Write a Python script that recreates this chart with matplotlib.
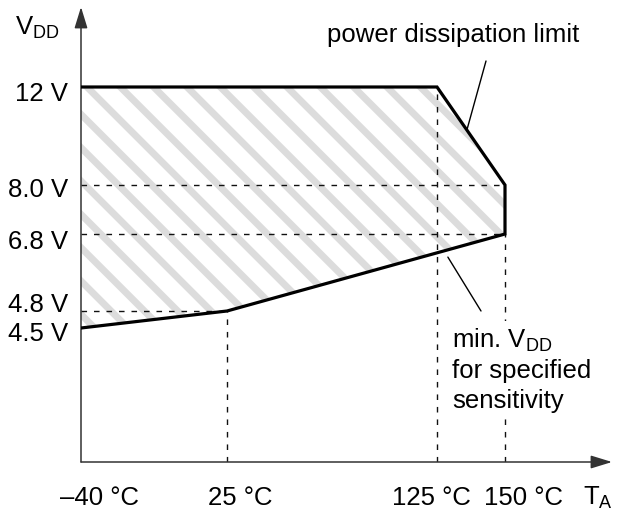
import numpy as np
import matplotlib
matplotlib.use("Agg")
import matplotlib.pyplot as plt
from matplotlib.patches import Polygon

plt.rcParams['font.family'] = ['Liberation Sans', 'DejaVu Sans']
plt.rcParams['mathtext.fontset'] = 'custom'
plt.rcParams['mathtext.rm'] = 'Liberation Sans'
plt.rcParams['mathtext.it'] = 'Liberation Sans:italic'
plt.rcParams['hatch.linewidth'] = 5
plt.rcParams['hatch.color'] = '#dcdcdc'

# corners of the operating area (T_A in degC, V_DD in V)
area_temp = [-40, 25, 150, 150, 125, -40]
area_vdd = [4.5, 4.8, 6.8, 8.0, 12.0, 12.0]

temp_ticks = [-40, 25, 125, 150]
temp_labels = ['–40 °C', '25 °C', '125 °C', '150 °C']
vdd_ticks = [12.0, 8.0, 6.8, 4.8, 4.5]
vdd_labels = ['12 V', '8.0 V', '6.8 V', '4.8 V', '4.5 V']

# the drawing is schematic, axes are not to scale
T_REF = [-40, 25, 125, 150, 185]
T_PIX = [0, 146, 356, 424, 531]
V_REF = [2.0, 4.5, 4.8, 6.8, 8.0, 12.0, 14.6]
V_PIX = [0, 134, 151, 228, 277, 375, 455]

W, H = 618, 510
fig = plt.figure(figsize=(W / 100, H / 100), dpi=100)
ax = fig.add_axes([81 / W, 47 / H, 531 / W, 455 / H])
ax.set_xscale('function', functions=(lambda t: np.interp(t, T_REF, T_PIX),
                                     lambda p: np.interp(p, T_PIX, T_REF)))
ax.set_yscale('function', functions=(lambda v: np.interp(v, V_REF, V_PIX),
                                     lambda p: np.interp(p, V_PIX, V_REF)))
ax.set_xlim(T_REF[0], T_REF[-1])
ax.set_ylim(V_REF[0], V_REF[-1])
ax.set_xticks([])
ax.set_yticks([])
ax.minorticks_off()
for s in ax.spines.values():
    s.set_visible(False)
ax.patch.set_alpha(0)

# hatched area + outline
ax.add_patch(Polygon(list(zip(area_temp, area_vdd)), closed=True, facecolor='none',
                     edgecolor='#dcdcdc', lw=0, hatch='\\'))
ax.plot(area_temp, area_vdd, color='black', lw=2.3, solid_joinstyle='miter', zorder=4)

# dashed guide lines
ybot = ax.get_ylim()[0]
dash = dict(color='#111111', lw=1.0, dashes=(4, 5), zorder=3)
ax.plot([-40, 150], [8.0, 8.0], **dash)
ax.plot([-40, 150], [6.8, 6.8], **dash)
ax.plot([-40, 25], [4.8, 4.8], **dash)
ax.plot([25, 25], [ybot, 4.8], **dash)
ax.plot([125, 125], [ybot, 12.0], **dash)
ax.plot([150, 150], [ybot, 6.8], **dash)

# axes with arrows
arr = dict(arrowstyle='-|>,head_length=0.65,head_width=0.2', color='#333333',
           lw=1.1, mutation_scale=20, shrinkA=0, shrinkB=0)
ax.annotate('', xy=(1, 0), xytext=(0, 0), xycoords='axes fraction', arrowprops=arr)
ax.annotate('', xy=(0, 1), xytext=(0, 0), xycoords='axes fraction', arrowprops=arr)

fs = 18.5
# tick labels
x_shift = [18, 13, -6, 19]
for t, lbl, dx in zip(temp_ticks, temp_labels, x_shift):
    ax.annotate(lbl, xy=(t, 0), xycoords=('data', 'axes fraction'),
                xytext=(dx, -42), textcoords='offset pixels',
                ha='center', va='baseline', fontsize=fs)
y_shift = [13, 11, 14, 0, 12]
for v, lbl, dy in zip(vdd_ticks, vdd_labels, y_shift):
    ax.annotate(lbl, xy=(0, v), xycoords=('axes fraction', 'data'),
                xytext=(-13, -dy), textcoords='offset pixels',
                ha='right', va='baseline', fontsize=fs)

# axis names
fig.text(15 / W, 1 - 35 / H, r'$\mathrm{V}_{\mathrm{DD}}$', fontsize=fs, va='baseline')
fig.text(583 / W, 1 - 505 / H, r'$\mathrm{T}_{\mathrm{A}}$', fontsize=fs, va='baseline')

# callouts
ax.annotate('power dissipation limit', xy=(136, 10.25), xycoords='data',
            xytext=(327, H - 42), textcoords='figure pixels',
            ha='left', va='baseline', fontsize=fs)
ax.annotate('', xy=(136, 10.25), xytext=(486, H - 62), textcoords='figure pixels',
            arrowprops=dict(arrowstyle='-', color='black', lw=1, shrinkA=0, shrinkB=0))
ax.annotate('', xy=(129, 6.2), xytext=(481, H - 312), textcoords='figure pixels',
            arrowprops=dict(arrowstyle='-', color='black', lw=1, shrinkA=0, shrinkB=0))
fig.text(452 / W, 1 - 408 / H,
         'min. $\\mathrm{V}_{\\mathrm{DD}}$\nfor specified\nsensitivity',
         fontsize=fs, va='baseline', ha='left', linespacing=1.3,
         bbox=dict(fc='white', ec='none', pad=2))

fig.savefig('out.png', dpi=100)
